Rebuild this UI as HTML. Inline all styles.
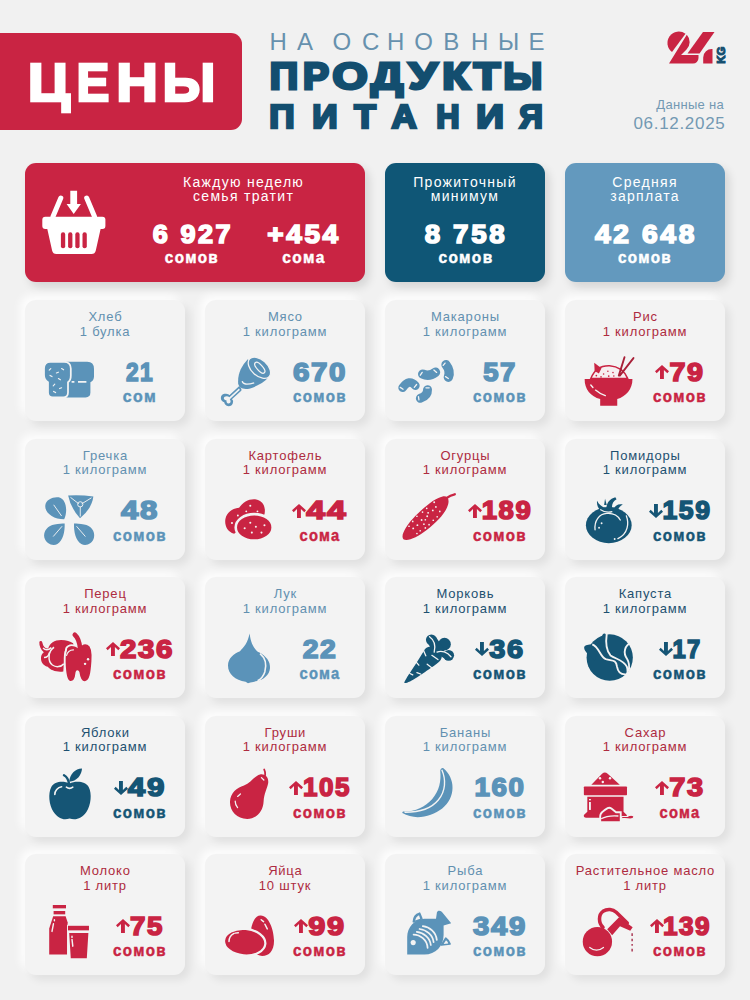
<!DOCTYPE html><html><head><meta charset="utf-8"><style>
*{margin:0;padding:0;box-sizing:border-box}
html,body{width:750px;height:1000px;overflow:hidden;background:#f1f1f1}
body{position:relative;font-family:"Liberation Sans",sans-serif}
.abs{position:absolute}
.nowrap{white-space:nowrap}
.card{position:absolute;width:160px;height:121px;border-radius:11px;background:#f3f3f3;
 box-shadow:5px 5px 9px rgba(0,0,0,0.07),-5px -5px 9px rgba(255,255,255,0.85)}
.t{position:absolute;text-align:center;font-size:13px;line-height:14.5px;letter-spacing:0.8px;white-space:nowrap;text-indent:0.8px}
</style></head><body>

<div class="abs" style="left:-20px;top:33px;width:262px;height:97px;background:#c92443;border-radius:11px"></div>
<div class="abs nowrap" style="left:-100.70px;top:56.97px;width:300px;text-align:center;font-size:52.9px;line-height:52.9px;font-weight:bold;color:#fff;-webkit-text-stroke:2.5px #fff;letter-spacing:0px;transform:scaleX(1.0947);transform-origin:150px 0">Ц</div>
<div class="abs nowrap" style="left:-57.35px;top:56.97px;width:300px;text-align:center;font-size:52.9px;line-height:52.9px;font-weight:bold;color:#fff;-webkit-text-stroke:2.5px #fff;letter-spacing:0px;transform:scaleX(0.9303);transform-origin:150px 0">Е</div>
<div class="abs nowrap" style="left:-13.30px;top:56.97px;width:300px;text-align:center;font-size:52.9px;line-height:52.9px;font-weight:bold;color:#fff;-webkit-text-stroke:2.5px #fff;letter-spacing:0px;transform:scaleX(1.0909);transform-origin:150px 0">Н</div>
<div class="abs nowrap" style="left:39.30px;top:56.97px;width:300px;text-align:center;font-size:52.9px;line-height:52.9px;font-weight:bold;color:#fff;-webkit-text-stroke:2.5px #fff;letter-spacing:0px;transform:scaleX(1.0213);transform-origin:150px 0">Ы</div>
<div class="abs nowrap" style="left:269.60px;top:29.68px;font-size:24px;line-height:24px;color:#6791ae">Н</div>
<div class="abs nowrap" style="left:297.10px;top:29.68px;font-size:24px;line-height:24px;color:#6791ae">А</div>
<div class="abs nowrap" style="left:332.40px;top:29.68px;font-size:24px;line-height:24px;color:#6791ae">О</div>
<div class="abs nowrap" style="left:361.90px;top:29.68px;font-size:24px;line-height:24px;color:#6791ae">С</div>
<div class="abs nowrap" style="left:387.00px;top:29.68px;font-size:24px;line-height:24px;color:#6791ae">Н</div>
<div class="abs nowrap" style="left:414.25px;top:29.68px;font-size:24px;line-height:24px;color:#6791ae">О</div>
<div class="abs nowrap" style="left:443.30px;top:29.68px;font-size:24px;line-height:24px;color:#6791ae">В</div>
<div class="abs nowrap" style="left:471.00px;top:29.68px;font-size:24px;line-height:24px;color:#6791ae">Н</div>
<div class="abs nowrap" style="left:497.90px;top:29.68px;font-size:24px;line-height:24px;color:#6791ae">Ы</div>
<div class="abs nowrap" style="left:528.50px;top:29.68px;font-size:24px;line-height:24px;color:#6791ae">Е</div>
<div class="abs nowrap" style="left:133.80px;top:57.64px;width:300px;text-align:center;font-size:37.4px;line-height:37.4px;font-weight:bold;color:#134e6f;-webkit-text-stroke:3px #134e6f;letter-spacing:0px;transform:scaleX(1.0560);transform-origin:150px 0">П</div>
<div class="abs nowrap" style="left:165.50px;top:57.64px;width:300px;text-align:center;font-size:37.4px;line-height:37.4px;font-weight:bold;color:#134e6f;-webkit-text-stroke:3px #134e6f;letter-spacing:0px;transform:scaleX(1.0417);transform-origin:150px 0">Р</div>
<div class="abs nowrap" style="left:199.50px;top:57.64px;width:300px;text-align:center;font-size:37.4px;line-height:37.4px;font-weight:bold;color:#134e6f;-webkit-text-stroke:3px #134e6f;letter-spacing:0px;transform:scaleX(1.2069);transform-origin:150px 0">О</div>
<div class="abs nowrap" style="left:236.50px;top:57.64px;width:300px;text-align:center;font-size:37.4px;line-height:37.4px;font-weight:bold;color:#134e6f;-webkit-text-stroke:3px #134e6f;letter-spacing:0px;transform:scaleX(1.2069);transform-origin:150px 0">Д</div>
<div class="abs nowrap" style="left:272.50px;top:57.64px;width:300px;text-align:center;font-size:37.4px;line-height:37.4px;font-weight:bold;color:#134e6f;-webkit-text-stroke:3px #134e6f;letter-spacing:0px;transform:scaleX(1.2222);transform-origin:150px 0">У</div>
<div class="abs nowrap" style="left:306.00px;top:57.64px;width:300px;text-align:center;font-size:37.4px;line-height:37.4px;font-weight:bold;color:#134e6f;-webkit-text-stroke:3px #134e6f;letter-spacing:0px;transform:scaleX(1.2000);transform-origin:150px 0">К</div>
<div class="abs nowrap" style="left:336.50px;top:57.64px;width:300px;text-align:center;font-size:37.4px;line-height:37.4px;font-weight:bold;color:#134e6f;-webkit-text-stroke:3px #134e6f;letter-spacing:0px;transform:scaleX(1.1600);transform-origin:150px 0">Т</div>
<div class="abs nowrap" style="left:373.00px;top:57.64px;width:300px;text-align:center;font-size:37.4px;line-height:37.4px;font-weight:bold;color:#134e6f;-webkit-text-stroke:3px #134e6f;letter-spacing:0px;transform:scaleX(1.0588);transform-origin:150px 0">Ы</div>
<div class="abs nowrap" style="left:132.00px;top:101.21px;width:300px;text-align:center;font-size:32.3px;line-height:32.3px;font-weight:bold;color:#134e6f;-webkit-text-stroke:2.5px #134e6f;letter-spacing:0px;transform:scaleX(1.0909);transform-origin:150px 0">П</div>
<div class="abs nowrap" style="left:175.00px;top:101.21px;width:300px;text-align:center;font-size:32.3px;line-height:32.3px;font-weight:bold;color:#134e6f;-webkit-text-stroke:2.5px #134e6f;letter-spacing:0px;transform:scaleX(1.0909);transform-origin:150px 0">И</div>
<div class="abs nowrap" style="left:214.50px;top:101.21px;width:300px;text-align:center;font-size:32.3px;line-height:32.3px;font-weight:bold;color:#134e6f;-webkit-text-stroke:2.5px #134e6f;letter-spacing:0px;transform:scaleX(1.0952);transform-origin:150px 0">Т</div>
<div class="abs nowrap" style="left:253.50px;top:101.21px;width:300px;text-align:center;font-size:32.3px;line-height:32.3px;font-weight:bold;color:#134e6f;-webkit-text-stroke:2.5px #134e6f;letter-spacing:0px;transform:scaleX(1.0800);transform-origin:150px 0">А</div>
<div class="abs nowrap" style="left:298.00px;top:101.21px;width:300px;text-align:center;font-size:32.3px;line-height:32.3px;font-weight:bold;color:#134e6f;-webkit-text-stroke:2.5px #134e6f;letter-spacing:0px;transform:scaleX(1.0000);transform-origin:150px 0">Н</div>
<div class="abs nowrap" style="left:339.50px;top:101.21px;width:300px;text-align:center;font-size:32.3px;line-height:32.3px;font-weight:bold;color:#134e6f;-webkit-text-stroke:2.5px #134e6f;letter-spacing:0px;transform:scaleX(1.1905);transform-origin:150px 0">И</div>
<div class="abs nowrap" style="left:380.70px;top:101.21px;width:300px;text-align:center;font-size:32.3px;line-height:32.3px;font-weight:bold;color:#134e6f;-webkit-text-stroke:2.5px #134e6f;letter-spacing:0px;transform:scaleX(1.0174);transform-origin:150px 0">Я</div>
<div class="abs nowrap" style="left:600px;top:98.00px;width:124px;text-align:right;font-size:13px;line-height:13px;color:#7399b3;letter-spacing:0.3px">Данные на</div>
<div class="abs nowrap" style="left:580px;top:114.61px;width:144px;text-align:right;font-size:17px;line-height:17px;color:#7399b3;letter-spacing:0.7px;margin-left:1.5px">06.12.2025</div>
<svg class="abs" style="left:660px;top:25px;overflow:visible" width="75" height="45" viewBox="0 0 750 450.00" fill="#c92443"><path d="M120 270 A105 105 0 1 1 255 88 Z" fill="#c92443"/><path d="M268 98 A105 105 0 0 1 265 245 L210 300 L385 300 L385 330 A55 55 0 0 1 330 385 L90 385 Z" fill="#c92443"/><path d="M430 70 L545 70 L395 285 L275 285 Z" fill="#c92443"/><path d="M432 385 L432 325 A85 85 0 0 1 525 240 L525 385 Z" fill="#c92443"/><text transform="translate(650 388) rotate(-90)" font-family="Liberation Sans" font-weight="bold" font-size="115" fill="#134e6f" stroke="#134e6f" stroke-width="10">KG</text></svg>
<div class="abs" style="left:25px;top:163px;width:340px;height:119px;border-radius:11px;background:#c92443;box-shadow:4px 5px 10px rgba(0,0,0,0.12)"></div>
<div class="abs" style="left:385px;top:163px;width:160px;height:119px;border-radius:11px;background:#0f5676;box-shadow:4px 5px 10px rgba(0,0,0,0.12)"></div>
<div class="abs" style="left:565px;top:163px;width:160px;height:119px;border-radius:11px;background:#6399be;box-shadow:4px 5px 10px rgba(0,0,0,0.12)"></div>
<svg class="abs" style="left:0;top:0" width="750" height="300" viewBox="0 0 750 300" fill="#fff"><rect x="42.3" y="216.8" width="63.1" height="12.2" rx="3"/><path d="M47.3 229 H100.6 L95.8 250.5 Q95 254.1 91.5 254.1 H56.4 Q52.9 254.1 52.1 250.5 Z"/><g fill="#c92443"><rect x="60.9" y="232.3" width="4.3" height="16" rx="2.1"/><rect x="68.1" y="232.3" width="4.3" height="16" rx="2.1"/><rect x="75.3" y="232.3" width="4.3" height="16" rx="2.1"/><rect x="82.5" y="232.3" width="4.3" height="16" rx="2.1"/></g><path d="M53 216.5 L60.8 198" stroke="#fff" stroke-width="5" stroke-linecap="round"/><path d="M94.5 216.5 L86.7 198" stroke="#fff" stroke-width="5" stroke-linecap="round"/><path d="M70.3 190.7 H77.1 V204 H80.9 L73.7 214.1 L66.6 204 H70.3 Z"/></svg>
<div class="abs nowrap" style="left:143.6px;top:174.65px;width:200px;text-align:center;font-size:14px;line-height:14.6px;color:#fff;letter-spacing:1.3px">Каждую неделю<br>семья тратит</div>
<div class="abs nowrap" style="left:365px;top:174.65px;width:200px;text-align:center;font-size:14px;line-height:14.6px;color:#fff;letter-spacing:1.3px">Прожиточный<br>минимум</div>
<div class="abs nowrap" style="left:545px;top:174.65px;width:200px;text-align:center;font-size:14px;line-height:14.6px;color:#fff;letter-spacing:1.3px">Средняя<br>зарплата</div>
<div class="abs nowrap" style="left:43.07px;top:220.80px;width:300px;text-align:center;font-size:26.7px;line-height:26.7px;font-weight:bold;color:#fff;-webkit-text-stroke:1.6px #fff;letter-spacing:2.5px;transform:scaleX(1.0132);transform-origin:150px 0">6 927</div><div class="abs nowrap" style="left:42.49px;top:250.05px;width:300px;text-align:center;font-size:16.6px;line-height:16.6px;font-weight:bold;color:#fff;-webkit-text-stroke:0.45px #fff;letter-spacing:1.5px;transform:scaleX(0.9193);transform-origin:150px 0">сомов</div>
<div class="abs nowrap" style="left:154.31px;top:220.80px;width:300px;text-align:center;font-size:26.7px;line-height:26.7px;font-weight:bold;color:#fff;-webkit-text-stroke:1.6px #fff;letter-spacing:2.5px;transform:scaleX(1.0500);transform-origin:150px 0">+454</div><div class="abs nowrap" style="left:153.70px;top:250.05px;width:300px;text-align:center;font-size:16.6px;line-height:16.6px;font-weight:bold;color:#fff;-webkit-text-stroke:0.45px #fff;letter-spacing:1.5px;transform:scaleX(0.9333);transform-origin:150px 0">сома</div>
<div class="abs nowrap" style="left:316.30px;top:220.80px;width:300px;text-align:center;font-size:26.7px;line-height:26.7px;font-weight:bold;color:#fff;-webkit-text-stroke:1.6px #fff;letter-spacing:2.5px;transform:scaleX(1.0395);transform-origin:150px 0">8 758</div><div class="abs nowrap" style="left:315.70px;top:250.05px;width:300px;text-align:center;font-size:16.6px;line-height:16.6px;font-weight:bold;color:#fff;-webkit-text-stroke:0.45px #fff;letter-spacing:1.5px;transform:scaleX(0.9339);transform-origin:150px 0">сомов</div>
<div class="abs nowrap" style="left:495.82px;top:220.80px;width:300px;text-align:center;font-size:26.7px;line-height:26.7px;font-weight:bold;color:#fff;-webkit-text-stroke:1.6px #fff;letter-spacing:2.5px;transform:scaleX(1.0558);transform-origin:150px 0">42 648</div><div class="abs nowrap" style="left:495.19px;top:250.05px;width:300px;text-align:center;font-size:16.6px;line-height:16.6px;font-weight:bold;color:#fff;-webkit-text-stroke:0.45px #fff;letter-spacing:1.5px;transform:scaleX(0.9175);transform-origin:150px 0">сомов</div>
<div class="card" style="left:25px;top:300px"></div>
<div class="t" style="left:25px;top:310.30px;width:160px;color:#6290b0">Хлеб<br>1 булка</div>
<div class="abs nowrap" style="left:-10.06px;top:358.60px;width:300px;text-align:center;font-size:26.7px;line-height:26.7px;font-weight:bold;color:#5b93b9;-webkit-text-stroke:1.6px #5b93b9;letter-spacing:1.5px;transform:scaleX(0.8516);transform-origin:150px 0">21</div>
<div class="abs nowrap" style="left:-9.78px;top:389.05px;width:300px;text-align:center;font-size:16.6px;line-height:16.6px;font-weight:bold;color:#5b93b9;-webkit-text-stroke:0.45px #5b93b9;letter-spacing:1.5px;transform:scaleX(0.9576);transform-origin:150px 0">сом</div>
<div class="card" style="left:205px;top:300px"></div>
<div class="t" style="left:205px;top:310.30px;width:160px;color:#6290b0">Мясо<br>1 килограмм</div>
<div class="abs nowrap" style="left:170.13px;top:358.60px;width:300px;text-align:center;font-size:26.7px;line-height:26.7px;font-weight:bold;color:#5b93b9;-webkit-text-stroke:1.6px #5b93b9;letter-spacing:1.5px;transform:scaleX(1.1064);transform-origin:150px 0">670</div>
<div class="abs nowrap" style="left:170.18px;top:389.05px;width:300px;text-align:center;font-size:16.6px;line-height:16.6px;font-weight:bold;color:#5b93b9;-webkit-text-stroke:0.45px #5b93b9;letter-spacing:1.5px;transform:scaleX(0.9123);transform-origin:150px 0">сомов</div>
<div class="card" style="left:385px;top:300px"></div>
<div class="t" style="left:385px;top:310.30px;width:160px;color:#6290b0">Макароны<br>1 килограмм</div>
<div class="abs nowrap" style="left:350.07px;top:358.60px;width:300px;text-align:center;font-size:26.7px;line-height:26.7px;font-weight:bold;color:#5b93b9;-webkit-text-stroke:1.6px #5b93b9;letter-spacing:1.5px;transform:scaleX(1.0290);transform-origin:150px 0">57</div>
<div class="abs nowrap" style="left:350.18px;top:389.05px;width:300px;text-align:center;font-size:16.6px;line-height:16.6px;font-weight:bold;color:#5b93b9;-webkit-text-stroke:0.45px #5b93b9;letter-spacing:1.5px;transform:scaleX(0.9123);transform-origin:150px 0">сомов</div>
<div class="card" style="left:565px;top:300px"></div>
<div class="t" style="left:565px;top:310.30px;width:160px;color:#ae2b40">Рис<br>1 килограмм</div>
<svg class="abs" style="left:655.40px;top:365.00px" width="14" height="14" viewBox="0 0 14 14" fill="#c92443"><path d="M5 14H8.9V5L12.3 8.2L14 6.2L7 0L0 6.2L1.7 8.2L5 5Z"/></svg>
<div class="abs nowrap" style="left:537.31px;top:358.60px;width:300px;text-align:center;font-size:26.7px;line-height:26.7px;font-weight:bold;color:#c92443;-webkit-text-stroke:1.6px #c92443;letter-spacing:1.5px;transform:scaleX(1.0774);transform-origin:150px 0">79</div>
<div class="abs nowrap" style="left:530.18px;top:389.05px;width:300px;text-align:center;font-size:16.6px;line-height:16.6px;font-weight:bold;color:#c92443;-webkit-text-stroke:0.45px #c92443;letter-spacing:1.5px;transform:scaleX(0.9123);transform-origin:150px 0">сомов</div>
<div class="card" style="left:25px;top:438.5px"></div>
<div class="t" style="left:25px;top:448.80px;width:160px;color:#6290b0">Гречка<br>1 килограмм</div>
<div class="abs nowrap" style="left:-9.82px;top:497.10px;width:300px;text-align:center;font-size:26.7px;line-height:26.7px;font-weight:bold;color:#5b93b9;-webkit-text-stroke:1.6px #5b93b9;letter-spacing:1.5px;transform:scaleX(1.1687);transform-origin:150px 0">48</div>
<div class="abs nowrap" style="left:-9.82px;top:527.55px;width:300px;text-align:center;font-size:16.6px;line-height:16.6px;font-weight:bold;color:#5b93b9;-webkit-text-stroke:0.45px #5b93b9;letter-spacing:1.5px;transform:scaleX(0.9123);transform-origin:150px 0">сомов</div>
<div class="card" style="left:205px;top:438.5px"></div>
<div class="t" style="left:205px;top:448.80px;width:160px;color:#ae2b40">Картофель<br>1 килограмм</div>
<svg class="abs" style="left:291.85px;top:503.50px" width="14" height="14" viewBox="0 0 14 14" fill="#c92443"><path d="M5 14H8.9V5L12.3 8.2L14 6.2L7 0L0 6.2L1.7 8.2L5 5Z"/></svg>
<div class="abs nowrap" style="left:177.45px;top:497.10px;width:300px;text-align:center;font-size:26.7px;line-height:26.7px;font-weight:bold;color:#c92443;-webkit-text-stroke:1.6px #c92443;letter-spacing:1.5px;transform:scaleX(1.2656);transform-origin:150px 0">44</div>
<div class="abs nowrap" style="left:170.17px;top:527.55px;width:300px;text-align:center;font-size:16.6px;line-height:16.6px;font-weight:bold;color:#c92443;-webkit-text-stroke:0.45px #c92443;letter-spacing:1.5px;transform:scaleX(0.8867);transform-origin:150px 0">сома</div>
<div class="card" style="left:385px;top:438.5px"></div>
<div class="t" style="left:385px;top:448.80px;width:160px;color:#ae2b40">Огурцы<br>1 килограмм</div>
<svg class="abs" style="left:468.40px;top:503.50px" width="14" height="14" viewBox="0 0 14 14" fill="#c92443"><path d="M5 14H8.9V5L12.3 8.2L14 6.2L7 0L0 6.2L1.7 8.2L5 5Z"/></svg>
<div class="abs nowrap" style="left:357.27px;top:497.10px;width:300px;text-align:center;font-size:26.7px;line-height:26.7px;font-weight:bold;color:#c92443;-webkit-text-stroke:1.6px #c92443;letter-spacing:1.5px;transform:scaleX(1.0304);transform-origin:150px 0">189</div>
<div class="abs nowrap" style="left:350.18px;top:527.55px;width:300px;text-align:center;font-size:16.6px;line-height:16.6px;font-weight:bold;color:#c92443;-webkit-text-stroke:0.45px #c92443;letter-spacing:1.5px;transform:scaleX(0.9123);transform-origin:150px 0">сомов</div>
<div class="card" style="left:565px;top:438.5px"></div>
<div class="t" style="left:565px;top:448.80px;width:160px;color:#1d5070">Помидоры<br>1 килограмм</div>
<svg class="abs" style="left:649.20px;top:503.50px" width="14" height="14" viewBox="0 0 14 14" fill="#155575"><path d="M5 0H8.9V9L12.3 5.8L14 7.8L7 14L0 7.8L1.7 5.8L5 9Z"/></svg>
<div class="abs nowrap" style="left:537.25px;top:497.10px;width:300px;text-align:center;font-size:26.7px;line-height:26.7px;font-weight:bold;color:#155575;-webkit-text-stroke:1.6px #155575;letter-spacing:1.5px;transform:scaleX(0.9957);transform-origin:150px 0">159</div>
<div class="abs nowrap" style="left:530.18px;top:527.55px;width:300px;text-align:center;font-size:16.6px;line-height:16.6px;font-weight:bold;color:#155575;-webkit-text-stroke:0.45px #155575;letter-spacing:1.5px;transform:scaleX(0.9123);transform-origin:150px 0">сомов</div>
<div class="card" style="left:25px;top:577px"></div>
<div class="t" style="left:25px;top:587.30px;width:160px;color:#ae2b40">Перец<br>1 килограмм</div>
<svg class="abs" style="left:106.10px;top:642.00px" width="14" height="14" viewBox="0 0 14 14" fill="#c92443"><path d="M5 14H8.9V5L12.3 8.2L14 6.2L7 0L0 6.2L1.7 8.2L5 5Z"/></svg>
<div class="abs nowrap" style="left:-2.67px;top:635.60px;width:300px;text-align:center;font-size:26.7px;line-height:26.7px;font-weight:bold;color:#c92443;-webkit-text-stroke:1.6px #c92443;letter-spacing:1.5px;transform:scaleX(1.1064);transform-origin:150px 0">236</div>
<div class="abs nowrap" style="left:-9.82px;top:666.05px;width:300px;text-align:center;font-size:16.6px;line-height:16.6px;font-weight:bold;color:#c92443;-webkit-text-stroke:0.45px #c92443;letter-spacing:1.5px;transform:scaleX(0.9123);transform-origin:150px 0">сомов</div>
<div class="card" style="left:205px;top:577px"></div>
<div class="t" style="left:205px;top:587.30px;width:160px;color:#6290b0">Лук<br>1 килограмм</div>
<div class="abs nowrap" style="left:170.10px;top:635.60px;width:300px;text-align:center;font-size:26.7px;line-height:26.7px;font-weight:bold;color:#5b93b9;-webkit-text-stroke:1.6px #5b93b9;letter-spacing:1.5px;transform:scaleX(1.0613);transform-origin:150px 0">22</div>
<div class="abs nowrap" style="left:170.17px;top:666.05px;width:300px;text-align:center;font-size:16.6px;line-height:16.6px;font-weight:bold;color:#5b93b9;-webkit-text-stroke:0.45px #5b93b9;letter-spacing:1.5px;transform:scaleX(0.8867);transform-origin:150px 0">сома</div>
<div class="card" style="left:385px;top:577px"></div>
<div class="t" style="left:385px;top:587.30px;width:160px;color:#1d5070">Морковь<br>1 килограмм</div>
<svg class="abs" style="left:475.30px;top:642.00px" width="14" height="14" viewBox="0 0 14 14" fill="#155575"><path d="M5 0H8.9V9L12.3 5.8L14 7.8L7 14L0 7.8L1.7 5.8L5 9Z"/></svg>
<div class="abs nowrap" style="left:357.31px;top:635.60px;width:300px;text-align:center;font-size:26.7px;line-height:26.7px;font-weight:bold;color:#155575;-webkit-text-stroke:1.6px #155575;letter-spacing:1.5px;transform:scaleX(1.0839);transform-origin:150px 0">36</div>
<div class="abs nowrap" style="left:350.18px;top:666.05px;width:300px;text-align:center;font-size:16.6px;line-height:16.6px;font-weight:bold;color:#155575;-webkit-text-stroke:0.45px #155575;letter-spacing:1.5px;transform:scaleX(0.9123);transform-origin:150px 0">сомов</div>
<div class="card" style="left:565px;top:577px"></div>
<div class="t" style="left:565px;top:587.30px;width:160px;color:#1d5070">Капуста<br>1 килограмм</div>
<svg class="abs" style="left:658.75px;top:642.00px" width="14" height="14" viewBox="0 0 14 14" fill="#155575"><path d="M5 0H8.9V9L12.3 5.8L14 7.8L7 14L0 7.8L1.7 5.8L5 9Z"/></svg>
<div class="abs nowrap" style="left:537.17px;top:635.60px;width:300px;text-align:center;font-size:26.7px;line-height:26.7px;font-weight:bold;color:#155575;-webkit-text-stroke:1.6px #155575;letter-spacing:1.5px;transform:scaleX(0.8900);transform-origin:150px 0">17</div>
<div class="abs nowrap" style="left:530.18px;top:666.05px;width:300px;text-align:center;font-size:16.6px;line-height:16.6px;font-weight:bold;color:#155575;-webkit-text-stroke:0.45px #155575;letter-spacing:1.5px;transform:scaleX(0.9123);transform-origin:150px 0">сомов</div>
<div class="card" style="left:25px;top:715.5px"></div>
<div class="t" style="left:25px;top:725.80px;width:160px;color:#1d5070">Яблоки<br>1 килограмм</div>
<svg class="abs" style="left:113.90px;top:780.50px" width="14" height="14" viewBox="0 0 14 14" fill="#155575"><path d="M5 0H8.9V9L12.3 5.8L14 7.8L7 14L0 7.8L1.7 5.8L5 9Z"/></svg>
<div class="abs nowrap" style="left:-2.62px;top:774.10px;width:300px;text-align:center;font-size:26.7px;line-height:26.7px;font-weight:bold;color:#155575;-webkit-text-stroke:1.6px #155575;letter-spacing:1.5px;transform:scaleX(1.1742);transform-origin:150px 0">49</div>
<div class="abs nowrap" style="left:-9.82px;top:804.55px;width:300px;text-align:center;font-size:16.6px;line-height:16.6px;font-weight:bold;color:#155575;-webkit-text-stroke:0.45px #155575;letter-spacing:1.5px;transform:scaleX(0.9123);transform-origin:150px 0">сомов</div>
<div class="card" style="left:205px;top:715.5px"></div>
<div class="t" style="left:205px;top:725.80px;width:160px;color:#ae2b40">Груши<br>1 килограмм</div>
<svg class="abs" style="left:289.20px;top:780.50px" width="14" height="14" viewBox="0 0 14 14" fill="#c92443"><path d="M5 14H8.9V5L12.3 8.2L14 6.2L7 0L0 6.2L1.7 8.2L5 5Z"/></svg>
<div class="abs nowrap" style="left:177.23px;top:774.10px;width:300px;text-align:center;font-size:26.7px;line-height:26.7px;font-weight:bold;color:#c92443;-webkit-text-stroke:1.6px #c92443;letter-spacing:1.5px;transform:scaleX(0.9745);transform-origin:150px 0">105</div>
<div class="abs nowrap" style="left:170.18px;top:804.55px;width:300px;text-align:center;font-size:16.6px;line-height:16.6px;font-weight:bold;color:#c92443;-webkit-text-stroke:0.45px #c92443;letter-spacing:1.5px;transform:scaleX(0.9123);transform-origin:150px 0">сомов</div>
<div class="card" style="left:385px;top:715.5px"></div>
<div class="t" style="left:385px;top:725.80px;width:160px;color:#6290b0">Бананы<br>1 килограмм</div>
<div class="abs nowrap" style="left:350.08px;top:774.10px;width:300px;text-align:center;font-size:26.7px;line-height:26.7px;font-weight:bold;color:#5b93b9;-webkit-text-stroke:1.6px #5b93b9;letter-spacing:1.5px;transform:scaleX(1.0383);transform-origin:150px 0">160</div>
<div class="abs nowrap" style="left:350.18px;top:804.55px;width:300px;text-align:center;font-size:16.6px;line-height:16.6px;font-weight:bold;color:#5b93b9;-webkit-text-stroke:0.45px #5b93b9;letter-spacing:1.5px;transform:scaleX(0.9123);transform-origin:150px 0">сомов</div>
<div class="card" style="left:565px;top:715.5px"></div>
<div class="t" style="left:565px;top:725.80px;width:160px;color:#ae2b40">Сахар<br>1 килограмм</div>
<svg class="abs" style="left:655.25px;top:780.50px" width="14" height="14" viewBox="0 0 14 14" fill="#c92443"><path d="M5 14H8.9V5L12.3 8.2L14 6.2L7 0L0 6.2L1.7 8.2L5 5Z"/></svg>
<div class="abs nowrap" style="left:537.32px;top:774.10px;width:300px;text-align:center;font-size:26.7px;line-height:26.7px;font-weight:bold;color:#c92443;-webkit-text-stroke:1.6px #c92443;letter-spacing:1.5px;transform:scaleX(1.0871);transform-origin:150px 0">73</div>
<div class="abs nowrap" style="left:530.16px;top:804.55px;width:300px;text-align:center;font-size:16.6px;line-height:16.6px;font-weight:bold;color:#c92443;-webkit-text-stroke:0.45px #c92443;letter-spacing:1.5px;transform:scaleX(0.8867);transform-origin:150px 0">сома</div>
<div class="card" style="left:25px;top:854px"></div>
<div class="t" style="left:25px;top:864.30px;width:160px;color:#ae2b40">Молоко<br>1 литр</div>
<svg class="abs" style="left:116.00px;top:919.00px" width="14" height="14" viewBox="0 0 14 14" fill="#c92443"><path d="M5 14H8.9V5L12.3 8.2L14 6.2L7 0L0 6.2L1.7 8.2L5 5Z"/></svg>
<div class="abs nowrap" style="left:-2.72px;top:912.60px;width:300px;text-align:center;font-size:26.7px;line-height:26.7px;font-weight:bold;color:#c92443;-webkit-text-stroke:1.6px #c92443;letter-spacing:1.5px;transform:scaleX(1.0387);transform-origin:150px 0">75</div>
<div class="abs nowrap" style="left:-9.82px;top:943.05px;width:300px;text-align:center;font-size:16.6px;line-height:16.6px;font-weight:bold;color:#c92443;-webkit-text-stroke:0.45px #c92443;letter-spacing:1.5px;transform:scaleX(0.9123);transform-origin:150px 0">сомов</div>
<div class="card" style="left:205px;top:854px"></div>
<div class="t" style="left:205px;top:864.30px;width:160px;color:#ae2b40">Яйца<br>10 штук</div>
<svg class="abs" style="left:294.25px;top:919.00px" width="14" height="14" viewBox="0 0 14 14" fill="#c92443"><path d="M5 14H8.9V5L12.3 8.2L14 6.2L7 0L0 6.2L1.7 8.2L5 5Z"/></svg>
<div class="abs nowrap" style="left:177.36px;top:912.60px;width:300px;text-align:center;font-size:26.7px;line-height:26.7px;font-weight:bold;color:#c92443;-webkit-text-stroke:1.6px #c92443;letter-spacing:1.5px;transform:scaleX(1.1516);transform-origin:150px 0">99</div>
<div class="abs nowrap" style="left:170.18px;top:943.05px;width:300px;text-align:center;font-size:16.6px;line-height:16.6px;font-weight:bold;color:#c92443;-webkit-text-stroke:0.45px #c92443;letter-spacing:1.5px;transform:scaleX(0.9123);transform-origin:150px 0">сомов</div>
<div class="card" style="left:385px;top:854px"></div>
<div class="t" style="left:385px;top:864.30px;width:160px;color:#6290b0">Рыба<br>1 килограмм</div>
<div class="abs nowrap" style="left:350.12px;top:912.60px;width:300px;text-align:center;font-size:26.7px;line-height:26.7px;font-weight:bold;color:#5b93b9;-webkit-text-stroke:1.6px #5b93b9;letter-spacing:1.5px;transform:scaleX(1.0979);transform-origin:150px 0">349</div>
<div class="abs nowrap" style="left:350.18px;top:943.05px;width:300px;text-align:center;font-size:16.6px;line-height:16.6px;font-weight:bold;color:#5b93b9;-webkit-text-stroke:0.45px #5b93b9;letter-spacing:1.5px;transform:scaleX(0.9123);transform-origin:150px 0">сомов</div>
<div class="card" style="left:565px;top:854px"></div>
<div class="t" style="left:565px;top:864.30px;width:160px;color:#ae2b40">Растительное масло<br>1 литр</div>
<svg class="abs" style="left:649.55px;top:919.00px" width="14" height="14" viewBox="0 0 14 14" fill="#c92443"><path d="M5 14H8.9V5L12.3 8.2L14 6.2L7 0L0 6.2L1.7 8.2L5 5Z"/></svg>
<div class="abs nowrap" style="left:537.24px;top:912.60px;width:300px;text-align:center;font-size:26.7px;line-height:26.7px;font-weight:bold;color:#c92443;-webkit-text-stroke:1.6px #c92443;letter-spacing:1.5px;transform:scaleX(0.9804);transform-origin:150px 0">139</div>
<div class="abs nowrap" style="left:530.18px;top:943.05px;width:300px;text-align:center;font-size:16.6px;line-height:16.6px;font-weight:bold;color:#c92443;-webkit-text-stroke:0.45px #c92443;letter-spacing:1.5px;transform:scaleX(0.9123);transform-origin:150px 0">сомов</div>
<svg class="abs" style="left:40px;top:355px;overflow:visible" width="60" height="50" viewBox="0 0 750 625.00" fill="#5b93b9"><path d="M360 85 H590 Q675 85 675 175 V270 Q675 320 630 340 V470 Q630 530 570 530 H330 V85 Z"/><path d="M130 85 H300 Q385 85 385 170 V260 Q385 320 350 340 V470 Q350 530 290 530 H160 Q100 530 100 470 V340 Q50 310 50 250 V170 Q50 85 130 85 Z" stroke="#f3f3f3" stroke-width="22"/><path d="M395 335 H430 M475 335 H580" stroke="#f3f3f3" stroke-width="22"/><g stroke="#f3f3f3" stroke-width="14" stroke-linecap="round"><path d="M115 190 L135 170 M270 170 L295 185 M205 225 L230 215 M125 255 L150 270 M230 295 L255 310 M165 385 L185 365 M245 420 L270 410 M170 455 L195 470"/></g></svg>
<svg class="abs" style="left:215px;top:350px;overflow:visible" width="60" height="60" viewBox="0 0 750 750.00" fill="#5b93b9"><path d="M410 115 C330 200 280 300 290 420 C300 480 360 500 440 480 C530 450 610 410 665 345 Z"/><ellipse cx="555" cy="222" rx="165" ry="100" transform="rotate(42 555 222)" stroke="#f3f3f3" stroke-width="16"/><ellipse cx="560" cy="222" rx="85" ry="35" transform="rotate(48 560 222)" fill="none" stroke="#f3f3f3" stroke-width="16"/><path d="M340 390 Q350 450 490 410" fill="none" stroke="#f3f3f3" stroke-width="16"/><path d="M305 465 L180 580 C150 540 85 560 85 600 C85 630 110 640 125 645 C125 665 140 690 170 690 C215 690 225 640 200 610 L320 500 Z" stroke="#5b93b9" stroke-width="24" stroke-linejoin="round"/><path d="M300 480 L180 590 C160 570 110 575 110 603 C110 625 140 630 145 630 C140 650 150 670 170 668 C200 665 200 635 185 615 L310 500 Z" fill="#f3f3f3"/></svg>
<svg class="abs" style="left:390px;top:350px;overflow:visible" width="70" height="60" viewBox="0 0 750 642.86" fill="#5b93b9"><g fill="none" stroke="#5b93b9" stroke-linecap="round"><path d="M135 405 Q205 305 272 382" stroke-width="92"/><path d="M350 258 Q420 290 488 238" stroke-width="100"/><path d="M600 158 Q652 225 625 292" stroke-width="100"/><path d="M402 425 Q405 490 325 518" stroke-width="96"/></g><g stroke="#f3f3f3" stroke-width="14" stroke-linecap="round"><path d="M110 400 L140 420 M260 400 L285 370 M325 270 L345 240 M470 215 L500 240 M570 165 L590 140 M595 285 L625 305 M385 405 L420 405 M305 500 L310 535"/></g></svg>
<svg class="abs" style="left:578px;top:350px;overflow:visible" width="64" height="60" viewBox="0 0 750 703.12" fill="#c92443"><path d="M150 335 Q210 180 370 185 Q520 195 580 330 Z" fill="#f7eef0" stroke="#c92443" stroke-width="18"/><g fill="#c92443"><circle cx="215" cy="300" r="10"/><circle cx="270" cy="315" r="9"/><circle cx="300" cy="280" r="9"/><circle cx="350" cy="250" r="9"/><circle cx="360" cy="305" r="10"/><circle cx="410" cy="265" r="9"/><circle cx="420" cy="305" r="9"/></g><path d="M190 150 L275 215 L245 275 L195 245 Z" fill="#c92443"/><path d="M478 300 L545 85 M490 300 L650 95" stroke="#a82038" stroke-width="22" stroke-linecap="round"/><path d="M78 340 H638 C640 460 560 545 460 575 V652 H260 V575 C150 545 75 460 78 340 Z"/><path d="M150 410 L175 440 M205 470 Q250 510 320 535" fill="none" stroke="#f3f3f3" stroke-width="16" stroke-linecap="round"/></svg>
<svg class="abs" style="left:35px;top:488px;overflow:visible" width="70" height="60" viewBox="0 0 750 642.86" fill="#5b93b9"><path d="M312 335 C200 335 105 270 110 190 C115 120 200 90 255 100 C320 115 340 200 332 262 C328 300 318 322 312 335 Z"/><path d="M355 80 Q490 70 625 92 Q610 220 482 325 Q380 210 355 80 Z"/><path d="M318 380 C320 480 300 560 240 600 C190 625 120 600 100 530 C85 460 140 400 210 390 C255 383 290 380 318 380 Z"/><path d="M418 380 C416 480 436 560 496 600 C546 625 616 600 632 530 C648 460 596 400 526 390 C481 383 446 380 418 380 Z"/><g fill="none" stroke="#f3f3f3" stroke-width="10"><path d="M380 100 L470 170 M605 105 L500 170 M485 200 V305 M200 180 L285 300 M290 410 L195 520 M445 410 L540 520"/><circle cx="485" cy="175" r="28"/></g></svg>
<svg class="abs" style="left:215px;top:488px;overflow:visible" width="70" height="60" viewBox="0 0 750 642.86" fill="#c92443"><path d="M205 490 C125 470 100 390 112 330 C128 250 200 218 258 212 C300 150 360 115 430 120 C505 130 545 190 532 272 C520 330 420 380 300 420 Z"/><ellipse cx="420" cy="422" rx="198" ry="142" stroke="#f3f3f3" stroke-width="28"/><g fill="#f3f3f3"><circle cx="378" cy="190" r="11"/><circle cx="335" cy="250" r="10"/><circle cx="455" cy="250" r="10"/><circle cx="245" cy="295" r="10"/><circle cx="182" cy="375" r="11"/><circle cx="378" cy="372" r="11"/><circle cx="438" cy="415" r="11"/><circle cx="530" cy="400" r="11"/><circle cx="318" cy="432" r="11"/><circle cx="395" cy="478" r="11"/><circle cx="498" cy="478" r="11"/></g></svg>
<svg class="abs" style="left:395px;top:485px;overflow:visible" width="70" height="60" viewBox="0 0 750 642.86" fill="#c92443"><path d="M90 580 C55 545 120 430 220 330 C330 220 430 140 510 122 C565 112 585 150 568 212 C545 300 445 400 340 482 C240 560 130 610 90 580 Z"/><path d="M560 135 Q590 110 640 100" fill="none" stroke="#c92443" stroke-width="26" stroke-linecap="round"/><g fill="#f3f3f3"><circle cx="420" cy="185" r="10"/><circle cx="438" cy="235" r="10"/><circle cx="405" cy="272" r="10"/><circle cx="480" cy="283" r="9"/><circle cx="340" cy="250" r="9"/><circle cx="355" cy="298" r="10"/><circle cx="295" cy="290" r="9"/><circle cx="345" cy="335" r="10"/><circle cx="452" cy="340" r="9"/><circle cx="235" cy="335" r="9"/><circle cx="285" cy="375" r="10"/><circle cx="325" cy="372" r="9"/><circle cx="410" cy="378" r="9"/><circle cx="190" cy="390" r="9"/><circle cx="240" cy="430" r="10"/><circle cx="310" cy="420" r="9"/><circle cx="365" cy="425" r="9"/><circle cx="150" cy="442" r="9"/><circle cx="195" cy="465" r="10"/><circle cx="270" cy="490" r="9"/><circle cx="325" cy="460" r="9"/><circle cx="235" cy="520" r="9"/></g></svg>
<svg class="abs" style="left:575px;top:485px;overflow:visible" width="70" height="65" viewBox="0 0 750 696.43" fill="#155575"><ellipse cx="362" cy="430" rx="245" ry="193"/><path d="M236 170 C228 245 280 292 345 300 L335 252 C292 238 256 212 236 170 Z"/><path d="M322 148 L340 215 L312 215 Z"/><path d="M432 132 C365 150 322 205 340 302 L408 292 C385 232 395 182 445 152 Z"/><path d="M512 208 C458 198 418 222 402 285 L452 290 C462 252 482 226 512 208 Z"/><path d="M215 480 C205 380 260 310 340 305 C410 300 460 330 485 375 M550 330 C580 410 570 520 460 575" fill="none" stroke="#f3f3f3" stroke-width="14" stroke-linecap="round"/><path d="M270 262 C310 290 360 295 400 285" fill="none" stroke="#f3f3f3" stroke-width="12"/><circle cx="285" cy="410" r="10" fill="#f3f3f3"/><circle cx="258" cy="458" r="10" fill="#f3f3f3"/><circle cx="425" cy="578" r="10" fill="#f3f3f3"/></svg>
<svg class="abs" style="left:30px;top:620px;overflow:visible" width="70" height="70" viewBox="0 0 750 750.00" fill="#c92443"><path d="M100 235 C105 222 126 222 132 240 C142 288 165 308 195 305 C210 250 262 213 332 213 C392 213 432 228 462 250 L472 300 L372 330 L357 552 C292 562 220 542 190 502 C160 492 123 470 118 420 C114 382 128 362 148 345 C118 320 97 280 100 235 Z"/><g fill="none" stroke="#f3f3f3" stroke-width="16"><path d="M140 300 Q178 342 228 296"/><path d="M258 292 C195 330 185 440 240 482 C282 512 332 502 362 470"/><path d="M150 402 C185 402 203 380 208 350"/></g><path d="M385 330 C380 280 430 260 480 275 C510 285 520 300 530 300 C545 260 580 240 620 255 C665 275 675 340 668 440 C660 560 650 660 590 665 C545 668 530 630 520 560 C515 545 500 545 498 560 C490 640 470 668 430 663 C385 655 375 570 372 450 C370 380 378 345 385 330 Z" stroke="#f3f3f3" stroke-width="20"/><path d="M480 158 C505 180 530 235 537 305" fill="none" stroke="#c92443" stroke-width="50" stroke-linecap="round"/><path d="M390 385 C400 340 430 318 470 320" fill="none" stroke="#f3f3f3" stroke-width="12"/><circle cx="622" cy="420" r="13" fill="#f3f3f3"/><circle cx="590" cy="470" r="13" fill="#f3f3f3"/></svg>
<svg class="abs" style="left:220px;top:620px;overflow:visible" width="60" height="70" viewBox="0 0 750 875.00" fill="#5b93b9"><path d="M480 400 C580 450 630 520 625 600 C620 690 540 750 450 765 Z"/><path d="M370 170 C385 300 430 370 490 410 C570 470 590 540 585 610 C575 700 490 770 380 780 L350 792 L320 772 C190 755 100 680 100 570 C100 480 170 420 250 390 C300 340 345 290 370 170 Z"/><path d="M500 420 C575 480 585 560 560 650 C540 710 500 745 470 760" fill="none" stroke="#f3f3f3" stroke-width="20"/></svg>
<svg class="abs" style="left:395px;top:625px;overflow:visible" width="70" height="65" viewBox="0 0 750 696.43" fill="#155575"><path d="M100 620 C95 600 240 400 320 260 C360 210 450 225 490 290 C520 345 490 390 440 420 C300 520 130 640 100 620 Z"/><g><circle cx="390" cy="160" r="58"/><circle cx="530" cy="205" r="68"/><circle cx="575" cy="325" r="58"/><path d="M330 150 L400 280 L470 320 L560 380 L520 250 L440 130 Z"/></g><g fill="none" stroke="#f3f3f3" stroke-width="14" stroke-linecap="round"><path d="M370 125 C420 160 440 210 420 290 M450 290 C500 270 560 290 600 340 M300 260 L330 330 M395 325 L460 370 M225 395 L255 430 M345 420 L390 455 M160 520 L190 535 M235 510 L275 525"/></g></svg>
<svg class="abs" style="left:575px;top:620px;overflow:visible" width="70" height="70" viewBox="0 0 750 750.00" fill="#155575"><circle cx="372" cy="402" r="248"/><path d="M98 298 C98 268 135 260 188 262 L260 300 L210 430 L135 365 C115 340 98 322 98 298 Z"/><path d="M250 250 L300 150 Q318 135 335 160 L340 260 Z"/><g fill="none" stroke="#f3f3f3" stroke-width="20"><path d="M185 262 C260 290 270 400 330 420 C400 440 440 420 450 500 C460 560 500 590 560 580 M340 150 C330 220 330 320 380 380 C440 420 520 430 555 500 C570 540 560 580 540 600 M610 240 C530 270 510 350 560 420 C590 470 580 520 575 550"/></g></svg>
<svg class="abs" style="left:40px;top:760px;overflow:visible" width="60" height="65" viewBox="0 0 750 812.50" fill="#155575"><path d="M370 295 C300 260 180 262 140 340 C100 420 110 560 170 650 C230 740 300 752 370 732 C440 752 520 740 580 650 C640 560 650 420 610 340 C570 262 440 260 370 295 Z"/><path d="M365 272 C372 170 440 110 525 105 C520 190 460 262 365 272 Z"/><path d="M300 190 Q350 215 362 292" fill="none" stroke="#155575" stroke-width="30" stroke-linecap="round"/><path d="M185 430 C185 385 220 340 270 335 M330 340 Q370 370 410 340" fill="none" stroke="#f3f3f3" stroke-width="20" stroke-linecap="round"/></svg>
<svg class="abs" style="left:220px;top:760px;overflow:visible" width="60" height="65" viewBox="0 0 750 812.50" fill="#c92443"><path d="M500 180 C560 168 612 210 602 290 C592 350 550 420 545 520 C540 640 460 737 340 737 C210 737 120 640 125 520 C130 410 210 350 300 320 C380 290 430 200 500 180 Z"/><path d="M552 118 Q568 150 565 190" fill="none" stroke="#c92443" stroke-width="22" stroke-linecap="round"/><path d="M518 220 L548 250 M220 455 L255 425 M190 515 Q190 560 220 595" fill="none" stroke="#f3f3f3" stroke-width="16" stroke-linecap="round"/></svg>
<svg class="abs" style="left:395px;top:760px;overflow:visible" width="65" height="65" viewBox="0 0 750 750.00" fill="#5b93b9"><path d="M555 92 C700 210 705 430 545 560 C420 655 230 700 85 612 C80 596 96 590 112 596 C230 595 350 540 430 450 C510 360 535 240 522 128 C520 108 540 86 555 92 Z"/><path d="M540 112 C590 225 585 360 500 462 C415 565 270 605 110 604" fill="none" stroke="#f3f3f3" stroke-width="16"/></svg>
<svg class="abs" style="left:575px;top:760px;overflow:visible" width="70" height="65" viewBox="0 0 750 696.43" fill="#c92443"><path d="M175 265 L290 148 Q320 120 350 148 L480 265 Z"/><rect x="95" y="285" width="462" height="92" rx="8"/><path d="M132 395 H520 V555 L555 590 Q560 620 530 620 H120 Q90 620 95 590 L132 555 Z"/><g fill="#f3f3f3"><circle cx="268" cy="195" r="13"/><circle cx="375" cy="195" r="13"/><circle cx="298" cy="235" r="13"/><rect x="150" y="418" width="20" height="14"/><rect x="150" y="450" width="20" height="85"/></g><path d="M270 600 Q270 560 350 515 Q370 505 390 520 L440 560 H490 V665 H270 Z" stroke="#f3f3f3" stroke-width="20"/><path d="M500 605 L560 605 Q600 580 630 600 Q635 630 590 632 L500 625 Z" stroke="#f3f3f3" stroke-width="12"/><path d="M280 630 Q350 590 465 600" fill="none" stroke="#f3f3f3" stroke-width="14"/></svg>
<svg class="abs" style="left:40px;top:895px;overflow:visible" width="60" height="65" viewBox="0 0 750 812.50" fill="#c92443"><rect x="160" y="125" width="165" height="42"/><rect x="170" y="200" width="145" height="42"/><path d="M165 265 H320 L345 340 V745 H115 V420 Z"/><path d="M345 372 V760" stroke="#f3f3f3" stroke-width="14"/><rect x="350" y="385" width="262" height="57"/><path d="M365 475 H605 L585 790 H385 Z"/><path d="M180 310 L180 322 M168 360 L150 455 M400 515 L400 530 M400 555 L410 640" fill="none" stroke="#f3f3f3" stroke-width="18" stroke-linecap="round"/></svg>
<svg class="abs" style="left:215px;top:900px;overflow:visible" width="70" height="60" viewBox="0 0 750 642.86" fill="#c92443"><path d="M490 165 C580 170 630 320 632 430 C635 540 580 600 505 600 C430 600 375 520 378 400 C380 280 420 160 490 165 Z"/><ellipse cx="318" cy="452" rx="222" ry="142" transform="rotate(5 318 452)" stroke="#f3f3f3" stroke-width="24"/><path d="M495 212 L520 232 M535 260 L560 310 M150 445 C150 410 170 375 200 360 M215 355 L250 350" fill="none" stroke="#f3f3f3" stroke-width="16" stroke-linecap="round"/></svg>
<svg class="abs" style="left:400px;top:895px;overflow:visible" width="60" height="65" viewBox="0 0 750 812.50" fill="#5b93b9"><path d="M90 745 V525 C90 400 185 298 305 296 H450 L462 215 C468 192 500 188 522 210 L640 352 L545 382 V500 C545 640 445 745 305 745 Z"/><path d="M168 335 C170 280 200 240 245 228 L272 295 Z" stroke="#5b93b9" stroke-width="22" stroke-linejoin="round"/><path d="M190 320 C195 285 215 262 238 252 L252 298 Z" fill="#f3f3f3"/><path d="M520 625 L572 540 C600 560 620 590 625 612 Z" stroke="#5b93b9" stroke-width="22" stroke-linejoin="round"/><path d="M545 612 L575 565 C590 578 600 592 603 605 Z" fill="#f3f3f3"/><g fill="none" stroke="#f3f3f3" stroke-width="22" stroke-linecap="round"><path d="M170 495 C250 495 340 560 345 660 M210 460 C300 470 375 540 385 625 M245 425 C330 435 410 500 420 590 M285 390 C370 400 450 460 460 560"/></g><circle cx="165" cy="595" r="32" fill="#f3f3f3"/></svg>
<svg class="abs" style="left:575px;top:895px;overflow:visible" width="70" height="65" viewBox="0 0 750 696.43" fill="#c92443"><circle cx="240" cy="500" r="157"/><path d="M300 345 C250 300 250 210 300 175 C345 145 405 150 442 185 L560 300" fill="none" stroke="#c92443" stroke-width="38" stroke-linecap="round"/><path d="M345 368 L472 238 L618 345 L592 382 L482 335 L398 432 Z"/><path d="M612 410 V440 M612 470 V495 M612 525 V545 M612 575 V605" stroke="#a02040" stroke-width="14"/><path d="M158 562 Q230 620 305 562" fill="none" stroke="#f3f3f3" stroke-width="14" stroke-linecap="round"/></svg>
</body></html>
